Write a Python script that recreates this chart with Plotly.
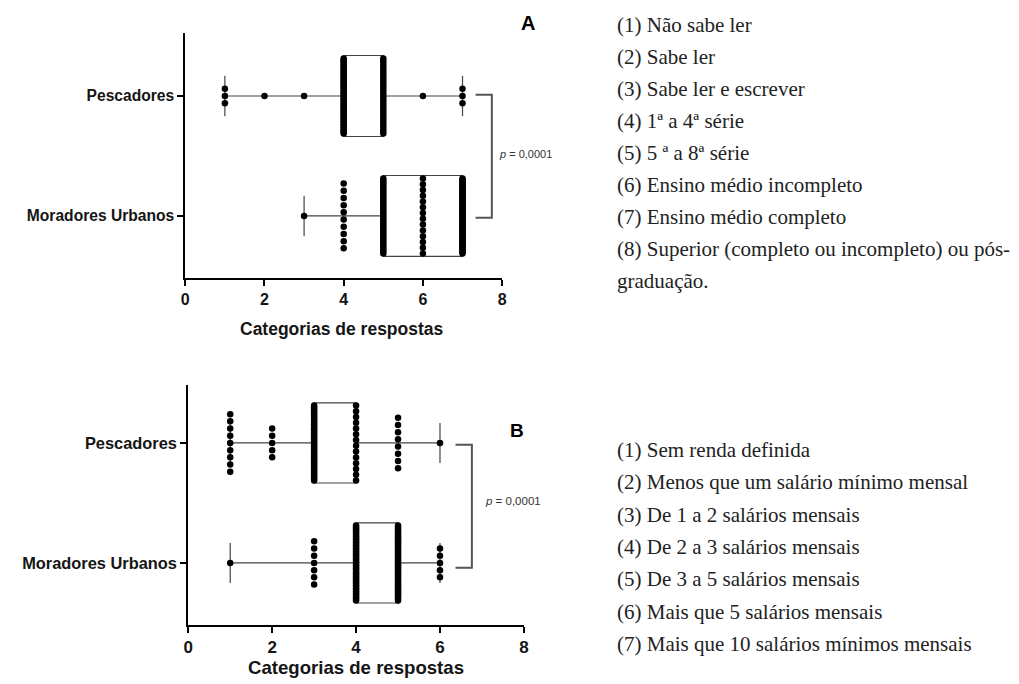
import numpy as np
import plotly.graph_objects as go

# ---------------- data ----------------
groups = ["Moradores Urbanos", "Pescadores"]          # y positions 0, 1

resp_A = [1, 2, 3, 4, 5, 6, 7]
pesc_A_counts = [3, 1, 1, 50, 28, 1, 3]
mor_A_counts = [0, 0, 1, 10, 35, 14, 62]

resp_B = [1, 2, 3, 4, 5, 6]
pesc_B_counts = [9, 5, 45, 14, 8, 1]
mor_B_counts = [1, 0, 7, 50, 50, 5]

x_ticks = [0, 2, 4, 6, 8]
p_text = "<i>p</i> = 0,0001"
axis_title = "Categorias de respostas"

legend_A = [
    "(1) Não sabe ler",
    "(2) Sabe ler",
    "(3) Sabe ler e escrever",
    "(4) 1ª a 4ª série",
    "(5) 5 ª a 8ª série",
    "(6) Ensino médio incompleto",
    "(7) Ensino médio completo",
    "(8) Superior (completo ou incompleto) ou pós-",
    "graduação.",
]
legend_B = [
    "(1) Sem renda definida",
    "(2) Menos que um salário mínimo mensal",
    "(3) De 1 a 2 salários mensais",
    "(4) De 2 a 3 salários mensais",
    "(5) De 3 a 5 salários mensais",
    "(6) Mais que 5 salários mensais",
    "(7) Mais que 10 salários mínimos mensais",
]

# ---------------- layout helpers ----------------
OFF = 8                      # page body margin
W, H = 1019 - OFF, 684 - OFF
def px(x):
    return (x - OFF) / W
def py(y):
    return 1 - (y - OFF) / H

PX_PER_UNIT = 120.0
SANS = "Liberation Sans, Arial, sans-serif"
SERIF = "Liberation Serif, Times New Roman, serif"
INK = "#151515"

fig = go.Figure()


def column_points(values, counts, ypos, gap_px=7.2, span_px=75.0):
    xs, ys = [], []
    for v, n in zip(values, counts):
        if n <= 0:
            continue
        s = gap_px if n == 1 else min(gap_px, span_px / (n - 1))
        for i in range(n):
            off = (i - (n - 1) / 2.0) * s / PX_PER_UNIT
            xs.append(v)
            ys.append(ypos + off)
    return xs, ys


def add_panel(values, counts_by_group, xa, ya, box_w):
    for gi, counts in enumerate(counts_by_group):
        data = np.repeat(values, counts)
        q1, med, q3 = np.percentile(data, [25, 50, 75])
        fig.add_trace(go.Box(
            orientation="h", y=[gi], q1=[q1], median=[med], q3=[q3],
            lowerfence=[data.min()], upperfence=[data.max()],
            width=box_w, whiskerwidth=0.5, boxpoints=False,
            line=dict(color="#444444", width=1.2),
            fillcolor="rgba(0,0,0,0)",
            xaxis=xa, yaxis=ya, hoverinfo="skip",
        ))
    for gi, counts in enumerate(counts_by_group):
        xs, ys = column_points(values, counts, gi)
        fig.add_trace(go.Scatter(
            x=xs, y=ys, mode="markers",
            marker=dict(color="black", size=6.5, line=dict(width=0)),
            xaxis=xa, yaxis=ya, hoverinfo="skip",
        ))


add_panel(resp_A, [mor_A_counts, pesc_A_counts], "x", "y", 0.675)
add_panel(resp_B, [mor_B_counts, pesc_B_counts], "x2", "y2", 0.667)

# significance brackets
fig.add_trace(go.Scatter(x=[7.33, 7.74, 7.74, 7.33], y=[1.01, 1.01, -0.015, -0.015],
                         mode="lines", line=dict(color="#555555", width=2),
                         xaxis="x", yaxis="y", hoverinfo="skip"))
fig.add_trace(go.Scatter(x=[6.37, 6.76, 6.76, 6.37], y=[0.985, 0.985, -0.04, -0.04],
                         mode="lines", line=dict(color="#555555", width=2),
                         xaxis="x2", yaxis="y2", hoverinfo="skip"))

common_x = dict(range=[0, 8], tickvals=x_ticks, ticktext=[f"<b>{t}</b>" for t in x_ticks],
                showline=True, linecolor="black",
                linewidth=2, ticks="outside", ticklen=6, tickwidth=1.5, tickcolor="black",
                showgrid=False, zeroline=False, fixedrange=True)
common_y = dict(tickvals=[0, 1], ticktext=[f"<b>{g}</b>" for g in groups],
                showline=True, linecolor="black",
                linewidth=2, ticks="outside", ticklen=6, tickwidth=1.5, tickcolor="black",
                showgrid=False, zeroline=False, fixedrange=True)

fig.update_layout(
    width=W, height=H, margin=dict(l=0, r=0, t=0, b=0),
    paper_bgcolor="white", plot_bgcolor="white", showlegend=False,
    xaxis=dict(domain=[px(182), px(502)], anchor="y",
               tickfont=dict(family=SANS, size=16, color=INK), **common_x),
    yaxis=dict(domain=[py(278), py(33)], anchor="x", range=[-0.517, 1.525],
               tickfont=dict(family=SANS, size=15.6, color=INK), **common_y),
    xaxis2=dict(domain=[px(185), px(524)], anchor="y2",
                tickfont=dict(family=SANS, size=17, color=INK), **common_x),
    yaxis2=dict(domain=[py(625), py(385)], anchor="x2", range=[-0.517, 1.483],
                tickfont=dict(family=SANS, size=16.4, color=INK), **common_y),
)

ann = []
ann.append(dict(text=f"<b>{axis_title}</b>", x=px(340), y=py(329), font=dict(family=SANS, size=17.5, color=INK)))
ann.append(dict(text=f"<b>{axis_title}</b>", x=px(354), y=py(667), font=dict(family=SANS, size=18.6, color=INK)))
ann.append(dict(text=p_text, x=px(497), y=py(154), xanchor="left", font=dict(family=SANS, size=11, color="#333")))
ann.append(dict(text=p_text, x=px(483), y=py(501), xanchor="left", font=dict(family=SANS, size=11.5, color="#333")))
ann.append(dict(text="<b>A</b>", x=px(528), y=py(22.5), font=dict(family=SANS, size=20, color="black")))
ann.append(dict(text="<b>B</b>", x=px(517), y=py(430), font=dict(family=SANS, size=19, color="black")))
for i, t in enumerate(legend_A):
    ann.append(dict(text=t, x=px(616), y=py(25.5 + 31.9 * i), xanchor="left",
                    font=dict(family=SERIF, size=21, color="#222")))
for i, t in enumerate(legend_B):
    ann.append(dict(text=t, x=px(616), y=py(450 + 32.3 * i), xanchor="left",
                    font=dict(family=SERIF, size=21, color="#222")))
for a in ann:
    a.setdefault("xanchor", "center")
    a.update(xref="paper", yref="paper", yanchor="middle", showarrow=False)
fig.update_layout(annotations=ann)

fig.write_html("out.html")
